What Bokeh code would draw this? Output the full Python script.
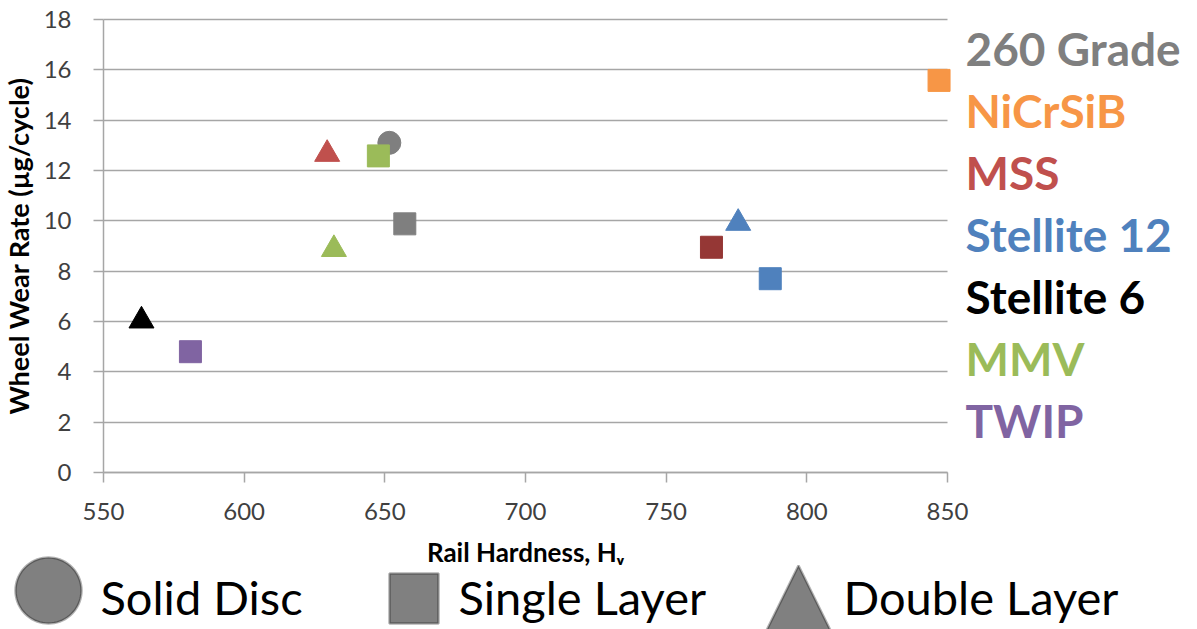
import numpy as np
from bokeh.plotting import figure
from bokeh.models import BoxAnnotation, ColumnDataSource, FixedTicker, Label, PolyAnnotation, Range1d
from bokeh.embed import file_html
from bokeh.resources import INLINE

# ---------------- data ----------------
materials = ["260 Grade", "NiCrSiB", "MSS", "Stellite 12", "Stellite 6", "MMV", "TWIP"]
material_colors = ["#7F7F7F", "#F79646", "#C0504D", "#4F81BD", "#000000", "#9BBB59", "#8064A2"]

disc_material = ["260 Grade"]
disc_hardness = [651.6]
disc_wear = [13.10]
disc_colors = ["#7F7F7F"]

single_material = ["260 Grade", "NiCrSiB", "MSS", "Stellite 12", "MMV", "TWIP"]
single_hardness = [657.1, 847.0, 766.1, 787.0, 647.7, 580.9]
single_wear = [9.88, 15.58, 8.95, 7.70, 12.58, 4.80]
single_colors = ["#7F7F7F", "#F79646", "#953735", "#4F81BD", "#9BBB59", "#8064A2"]

double_material = ["MSS", "Stellite 12", "Stellite 6", "MMV"]
double_hardness = [629.5, 775.6, 563.5, 631.9]
double_wear = [12.65, 9.91, 6.03, 8.87]
double_colors = ["#C0504D", "#4F81BD", "#000000", "#9BBB59"]

x_ticks = [550, 600, 650, 700, 750, 800, 850]
y_ticks = [0, 2, 4, 6, 8, 10, 12, 14, 16, 18]

shape_names = ["Solid Disc", "Single Layer", "Double Layer"]

x_title = "Rail Hardness, H\u1d65"
y_title = "Wheel Wear Rate (\u00b5g/cycle)"

# ---------------- layout helpers ----------------
W, H = 1197, 629
X_LO, X_HI, Y_LO, Y_HI = 550, 850, 0, 18
PX_LEFT, PX_RIGHT, PY_BOTTOM, PY_TOP = 103, 947, 472, 19   # plot area in page pixels
TXT_SHIFT = 18   # Label baseline correction (pixels)

def dx(px):
    return X_LO + (px - PX_LEFT) * (X_HI - X_LO) / (PX_RIGHT - PX_LEFT)

def dy(py):
    return Y_LO + (PY_BOTTOM - py) * (Y_HI - Y_LO) / (PY_BOTTOM - PY_TOP)

# ---------------- figure ----------------
FONT = "Lato"
p = figure(width=W, height=H, x_range=Range1d(dx(0), dx(W)), y_range=Range1d(dy(H), dy(0)),
           output_backend="svg", toolbar_location=None,
           min_border=0, min_border_left=0, min_border_right=0, min_border_top=0, min_border_bottom=0)
p.title.visible = False
p.outline_line_color = None
p.background_fill_color = "white"
p.border_fill_color = "white"

GRID = "#A6A6A6"
p.xgrid.visible = False
p.ygrid.grid_line_color = GRID
p.ygrid.grid_line_width = 1.5
p.ygrid.ticker = FixedTicker(ticks=y_ticks)
try:
    p.ygrid.cross_bounds = (X_LO, X_HI)
except Exception:
    # hide grid outside the plot area
    for l, r in ((None, X_LO), (X_HI, None)):
        p.add_layout(BoxAnnotation(left=l, right=r, fill_color="white", fill_alpha=1,
                                   line_color=None, level="underlay"))

for ax in (p.xaxis[0], p.yaxis[0]):
    ax.axis_line_color = GRID
    ax.axis_line_width = 1.5
    ax.major_tick_line_color = GRID
    ax.major_tick_line_width = 1.5
    ax.major_tick_out = 10
    ax.major_tick_in = 0
    ax.minor_tick_line_color = None
    ax.major_label_text_font = FONT
    ax.major_label_text_font_size = "24px"
    ax.major_label_text_color = "#404040"
    ax.axis_label_text_font = FONT
    ax.axis_label_text_font_style = "bold"
    ax.axis_label_text_color = "black"

p.xaxis.axis_label_text_font_size = "26px"
p.yaxis.axis_label_text_font_size = "27px"
p.xaxis.ticker = FixedTicker(ticks=x_ticks)
p.yaxis.ticker = FixedTicker(ticks=y_ticks)
p.xaxis.fixed_location = Y_LO
p.yaxis.fixed_location = X_LO
p.xaxis.bounds = (X_LO, X_HI)
p.yaxis.bounds = (Y_LO, Y_HI)
p.xaxis.major_label_standoff = 20
p.yaxis.major_label_standoff = 22
p.xaxis.axis_label = x_title
p.yaxis.axis_label = y_title
p.xaxis.axis_label_standoff = 13
p.yaxis.axis_label_standoff = 6

# ---------------- marks ----------------
src_disc = ColumnDataSource(dict(x=disc_hardness, y=disc_wear, c=disc_colors, m=disc_material))
src_single = ColumnDataSource(dict(x=single_hardness, y=single_wear, c=single_colors, m=single_material))
src_double = ColumnDataSource(dict(x=double_hardness, y=double_wear, c=double_colors, m=double_material))

p.scatter("x", "y", source=src_disc, marker="circle", size=23, fill_color="c", line_color="c")
p.scatter("x", "y", source=src_single, marker="square", size=22, fill_color="c", line_color="c")
p.scatter("x", "y", source=src_double, marker="triangle", size=25, fill_color="c", line_color="c")

# ---------------- colour legend (right) ----------------
for i, (name, col) in enumerate(zip(materials, material_colors)):
    p.add_layout(Label(x=dx(965), y=dy(66 + 62 * i - TXT_SHIFT), text=name, text_color=col,
                       text_font=FONT, text_font_style="bold", text_font_size="46px",
                       text_baseline="alphabetic", text_align="left"))

# ---------------- shape legend (bottom) ----------------
SHAPE_FILL = "#808080"
t = np.linspace(0, 2 * np.pi, 73)
cx, cy, r = 48, 590, 33
p.add_layout(PolyAnnotation(xs=[dx(cx + r * np.cos(a)) for a in t],
                            ys=[dy(cy + r * np.sin(a)) for a in t],
                            fill_color=SHAPE_FILL, fill_alpha=1, line_color="black", line_width=2.5))
p.add_layout(PolyAnnotation(xs=[dx(389), dx(438), dx(438), dx(389)],
                            ys=[dy(573), dy(573), dy(623), dy(623)],
                            fill_color=SHAPE_FILL, fill_alpha=1, line_color="black", line_width=2.5))
p.add_layout(PolyAnnotation(xs=[dx(798), dx(832), dx(764)],
                            ys=[dy(565), dy(634), dy(634)],
                            fill_color=SHAPE_FILL, fill_alpha=1, line_color="black", line_width=2.5))

for name, lx in zip(shape_names, [100, 458, 843]):
    p.add_layout(Label(x=dx(lx), y=dy(614 - TXT_SHIFT), text=name, text_color="black",
                       text_font=FONT, text_font_size="47px",
                       text_baseline="alphabetic", text_align="left"))

open("out.html", "w").write(file_html(p, INLINE))
